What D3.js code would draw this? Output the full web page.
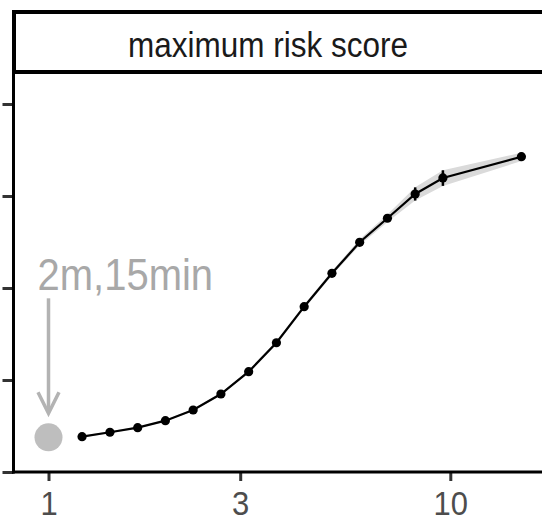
<!DOCTYPE html>
<html>
<head>
<meta charset="utf-8">
<script src="https://cdn.jsdelivr.net/npm/d3@7"></script>
<style>
  body { margin: 0; background: #fff; }
  svg { display: block; font-family: "Liberation Sans", Arial, sans-serif; }
</style>
</head>
<body>
<div id="chart"></div>
<script>
// values
const stripLabel = 'maximum risk score'
const xTicks = [1, 3, 10]
const yTicks = [0, 1, 2, 3, 4]
const spreadX = [1.212, 1.422, 1.667, 1.954, 2.291, 2.686, 3.149, 3.692, 4.328, 5.075, 5.949, 6.975, 8.177, 9.585, 15.03]
const scoreMean = [0.384, 0.432, 0.482, 0.558, 0.674, 0.848, 1.090, 1.405, 1.797, 2.160, 2.497, 2.758, 3.022, 3.196, 3.427]
const scoreLow = [0.374, 0.422, 0.472, 0.548, 0.662, 0.834, 1.074, 1.385, 1.775, 2.135, 2.465, 2.718, 2.950, 3.110, 3.380]
const scoreHigh = [0.394, 0.442, 0.492, 0.568, 0.686, 0.862, 1.106, 1.425, 1.819, 2.185, 2.529, 2.798, 3.094, 3.280, 3.470]
const baseX = [1]
const baseY = [0.377]
const baseLabel = '2m,15min'

const width = 542, height = 522
const panel = {left: 13.5, right: 545, top: 72, bottom: 472}

const rows = spreadX.map((x, i) => ({x: x, y: scoreMean[i], lo: scoreLow[i], hi: scoreHigh[i]}))

const svg = d3.select('#chart')
    .append('svg')
    .attr('width', width)
    .attr('height', height)

const x = d3.scaleLog().domain([1, 10]).range([48.5, 450.3])
const y = d3.scaleLinear().domain([0, 4]).range([472, 104])

// ribbon
svg.append('path')
    .datum(rows)
    .attr('fill', '#dadada')
    .attr('d', d3.area().x(d => x(d.x)).y0(d => y(d.lo)).y1(d => y(d.hi)))

// error bars
svg.selectAll('.err')
    .data(rows)
    .join('line')
    .attr('class', 'err')
    .attr('x1', d => x(d.x)).attr('x2', d => x(d.x))
    .attr('y1', d => y(d.lo)).attr('y2', d => y(d.hi))
    .attr('stroke', 'black')
    .attr('stroke-width', 2.5)

svg.append('path')
    .datum(rows)
    .attr('fill', 'none')
    .attr('stroke', 'black')
    .attr('stroke-width', 2.2)
    .attr('d', d3.line().x(d => x(d.x)).y(d => y(d.y)))

svg.selectAll('.pt')
    .data(rows)
    .join('circle')
    .attr('class', 'pt')
    .attr('cx', d => x(d.x))
    .attr('cy', d => y(d.y))
    .attr('r', 4.6)
    .attr('fill', 'black')

// baseline point + arrow annotation
const bx = x(baseX[0]), by = y(baseY[0])
svg.append('circle')
    .attr('cx', bx).attr('cy', by)
    .attr('r', 14)
    .attr('fill', '#bebebe')

const grey = '#b3b3b3'
svg.append('line')
    .attr('x1', bx).attr('x2', bx)
    .attr('y1', by - 139).attr('y2', by - 25)
    .attr('stroke', grey).attr('stroke-width', 3.5)
svg.append('path')
    .attr('d', `M${bx - 10.5},${by - 45} L${bx},${by - 24} L${bx + 10.5},${by - 45}`)
    .attr('fill', 'none')
    .attr('stroke', grey).attr('stroke-width', 3.5)
    .attr('stroke-linejoin', 'miter')

// the source font is a bit taller than Liberation Sans, so stretch text vertically
svg.append('text')
    .attr('transform', `translate(${bx - 11},${by - 147}) scale(1,1.12)`)
    .attr('fill', '#a8a8a8')
    .attr('font-size', 40)
    .text(baseLabel)

// strip
svg.append('rect')
    .attr('x', 14).attr('y', 12)
    .attr('width', panel.right - 14).attr('height', 60)
    .attr('fill', 'white')
    .attr('stroke', 'black')
    .attr('stroke-width', 4)
svg.append('text')
    .attr('transform', 'translate(268,57) scale(1,1.13)')
    .attr('text-anchor', 'middle')
    .attr('fill', '#1a1a1a')
    .attr('font-size', 31.5)
    .text(stripLabel)

// axes
const xAxis = svg.append('g')
    .attr('transform', `translate(0,${panel.bottom})`)
    .call(d3.axisBottom(x).tickValues(xTicks).tickFormat(d3.format('d')).tickSize(9))
xAxis.select('.domain').remove()
xAxis.selectAll('line').attr('stroke', '#333').attr('stroke-width', 3)
xAxis.selectAll('text')
    .attr('y', 0).attr('dy', null)
    .attr('transform', 'translate(0,43) scale(1,1.1)')
    .attr('fill', '#4d4d4d')
    .attr('font-size', 31)
    .attr('font-family', '"Liberation Sans", Arial, sans-serif')

const yAxis = svg.append('g')
    .attr('transform', `translate(${panel.left},0)`)
    .call(d3.axisLeft(y).tickValues(yTicks).tickFormat('').tickSize(11))
yAxis.select('.domain').remove()
yAxis.selectAll('line').attr('stroke', '#333').attr('stroke-width', 3)

svg.append('line')
    .attr('x1', panel.left).attr('x2', panel.left)
    .attr('y1', panel.top).attr('y2', panel.bottom + 1.5)
    .attr('stroke', 'black').attr('stroke-width', 3)
svg.append('line')
    .attr('x1', panel.left - 1.5).attr('x2', panel.right)
    .attr('y1', panel.bottom).attr('y2', panel.bottom)
    .attr('stroke', 'black').attr('stroke-width', 3)
</script>
</body>
</html>
